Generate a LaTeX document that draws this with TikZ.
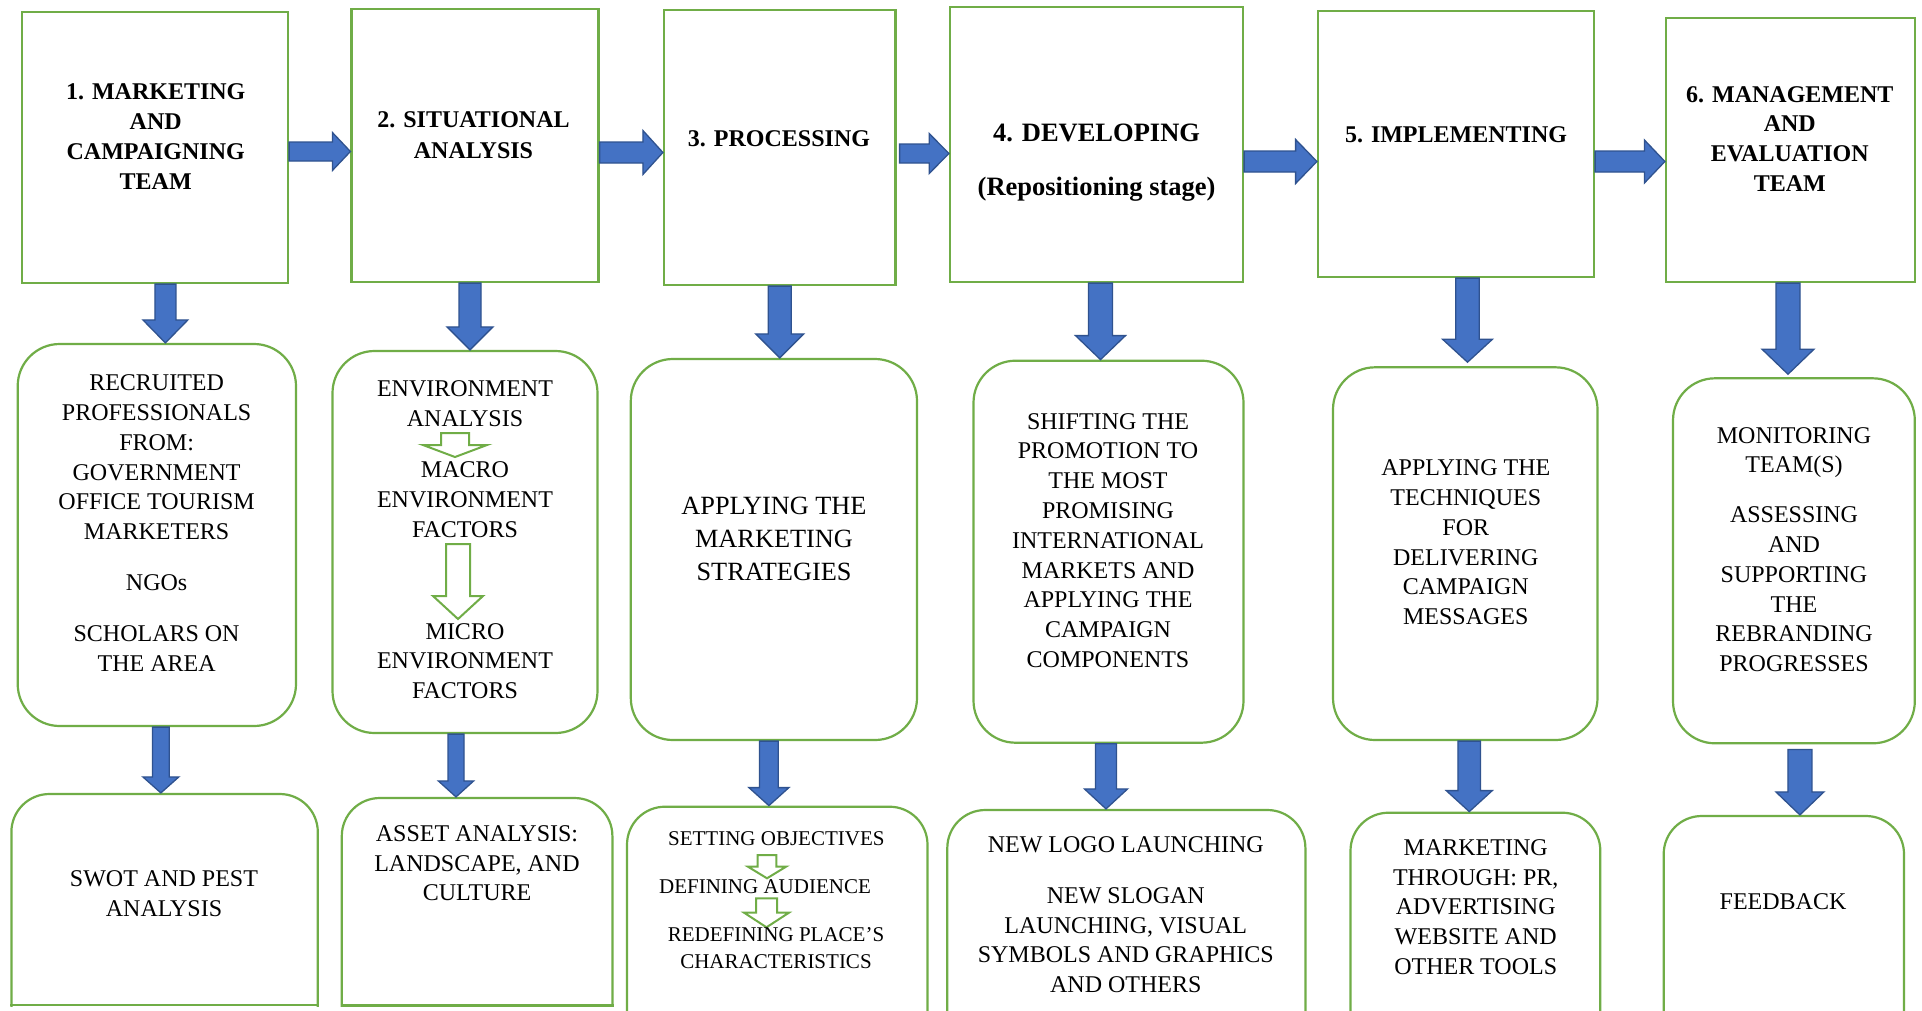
\documentclass[tikz,border=0pt]{standalone}
\usepackage{fontspec}
\setmainfont{Liberation Serif}
\usetikzlibrary{calc}
\definecolor{gbord}{HTML}{70AD47}
\definecolor{ablue}{HTML}{4472C4}
\definecolor{aedge}{HTML}{2F528F}
\tikzset{
  arsw/.store in=\arSW, arhw/.store in=\arHW, arhl/.store in=\arHL,
  arsw=10, arhw=22, arhl=20,
  blockfill/.style={fill=ablue, draw=aedge, line width=1.3pt, line join=miter},
  openfill/.style={fill=white, draw=gbord, line width=2pt, line join=miter},
  varr/.style={to path={let \p1=(\tikztostart), \p2=(\tikztotarget) in
     (\x1-\arSW*1pt,\y1) -- (\x1-\arSW*1pt,\y2+\arHL*1pt) -- (\x1-\arHW*1pt,\y2+\arHL*1pt) -- (\x1,\y2) -- (\x1+\arHW*1pt,\y2+\arHL*1pt) -- (\x1+\arSW*1pt,\y2+\arHL*1pt) -- (\x1+\arSW*1pt,\y1) -- cycle}},
  harr/.style={to path={let \p1=(\tikztostart), \p2=(\tikztotarget) in
     (\x1,\y1+\arSW*1pt) -- (\x2-\arHL*1pt,\y1+\arSW*1pt) -- (\x2-\arHL*1pt,\y1+\arHW*1pt) -- (\x2,\y1) -- (\x2-\arHL*1pt,\y1-\arHW*1pt) -- (\x2-\arHL*1pt,\y1-\arSW*1pt) -- (\x1,\y1-\arSW*1pt) -- cycle}},
  topbox/.style={draw=gbord, line width=2.2pt, fill=white, rectangle, inner sep=0pt},
  midbox/.style={draw=gbord, line width=2.2pt, fill=white, rectangle, rounded corners=42pt, inner sep=0pt},
  botbox/.style={draw=gbord, line width=2.2pt, fill=white, rectangle, rounded corners=38pt, inner sep=0pt},
  btxt/.style={font=\fontsize{24}{30}\selectfont\bfseries, align=center, inner sep=0pt},
  bbigtxt/.style={font=\fontsize{26.5}{32}\selectfont\bfseries, align=center, inner sep=0pt},
  ntxt/.style={font=\fontsize{24}{29.8}\selectfont, align=center, inner sep=0pt},
  bigtxt/.style={font=\fontsize{26.3}{33}\selectfont, align=center, inner sep=0pt},
  smalltxt/.style={font=\fontsize{21}{26.7}\selectfont, align=center, inner sep=0pt},
}
\begin{document}
\begin{tikzpicture}[x=1pt,y=-1pt]
\useasboundingbox (0,0) rectangle (1922,1010);
\fill[white] (0,0) rectangle (1922,1010);

% top boxes
\node[topbox, minimum width=266pt, minimum height=271pt] (b1) at (155,147.5) {};
\node[topbox, minimum width=247pt, minimum height=273pt] (b2) at (475,145.5) {};
\node[topbox, minimum width=231.5pt, minimum height=275pt] (b3) at (779.75,147.5) {};
\node[topbox, minimum width=293pt, minimum height=275pt] (b4) at (1096.5,144.5) {};
\node[topbox, minimum width=276pt, minimum height=266pt] (b5) at (1456,144) {};
\node[topbox, minimum width=249pt, minimum height=264pt] (b6) at (1790.5,150) {};

% middle boxes
\node[midbox, minimum width=278.3pt, minimum height=382pt] (m1) at (156.85,535) {};
\node[midbox, minimum width=265pt, minimum height=382pt] (m2) at (465,542) {};
\node[midbox, minimum width=286.2pt, minimum height=381pt] (m3) at (773.9,549.5) {};
\node[midbox, minimum width=270pt, minimum height=382pt] (m4) at (1108.5,551.7) {};
\node[midbox, minimum width=264.5pt, minimum height=372.7pt] (m5) at (1465.25,553.65) {};
\node[midbox, minimum width=241.8pt, minimum height=365pt] (m6) at (1793.9,560.8) {};

% bottom boxes
\begin{scope}
\clip (0,0) rectangle (1922,1006.1);
\node[botbox, minimum width=306.4pt, minimum height=266pt] (s1) at (164.6,927) {};
\node[botbox, minimum width=270.6pt, minimum height=262pt] (s2) at (477.1,929) {};
\end{scope}
\draw[gbord, line width=2.2pt] (s1.west |- 0,1005) -- (s1.east |- 0,1005);
\draw[gbord, line width=2.2pt] (s2.west |- 0,1005.5) -- (s2.east |- 0,1005.5);
\node[botbox, minimum width=300.5pt, minimum height=263.3pt] (s3) at (777.25,938.35) {};
\node[botbox, minimum width=358.1pt, minimum height=260pt] (s4) at (1126.35,940) {};
\node[botbox, minimum width=249.8pt, minimum height=257.3pt] (s5) at (1475.4,941.35) {};
\node[botbox, minimum width=240.3pt, minimum height=254pt] (s6) at (1783.85,943) {};

% horizontal block arrows
\draw[blockfill, harr, arsw=9.5, arhw=19, arhl=18] ([yshift=-4pt]b1.east) to (b2.west);
\draw[blockfill, harr, arsw=10.5, arhw=22, arhl=20] ([yshift=-7pt]b2.east) to (b3.west);
\draw[blockfill, harr, arsw=9.5, arhw=20, arhl=19.7] ([xshift=3pt,yshift=-6pt]b3.east) to (b4.west);
\draw[blockfill, harr, arsw=10.5, arhw=22, arhl=21.3] ([yshift=-17pt]b4.east) to (b5.west);
\draw[blockfill, harr, arsw=10.5, arhw=21.5, arhl=20.5] ([yshift=-17.5pt]b5.east) to (b6.west);

% vertical block arrows, top to middle
\draw[blockfill, varr, arsw=10.5, arhw=22.5, arhl=23] ([xshift=10.4pt]b1.south) to (m1.north);
\draw[blockfill, varr, arsw=11, arhw=23, arhl=23] ([xshift=-5pt]b2.south) to (m2.north);
\draw[blockfill, varr, arsw=11.5, arhw=24, arhl=24] (b3.south) to (m3.north);
\draw[blockfill, varr, arsw=12, arhw=25, arhl=24] ([xshift=4pt]b4.south) to (m4.north);
\draw[blockfill, varr, arsw=11.7, arhw=25, arhl=23] ([xshift=11.5pt]b5.south) to ([yshift=4pt]m5.north);
\draw[blockfill, varr, arsw=12, arhw=26, arhl=25] ([xshift=-2.5pt]b6.south) to ([yshift=3pt]m6.north);

% vertical block arrows, middle to bottom
\draw[blockfill, varr, arsw=8.4, arhw=18, arhl=16] ([xshift=4pt]m1.south) to (s1.north);
\draw[blockfill, varr, arsw=8, arhw=17.7, arhl=16] ([xshift=-9pt]m2.south) to (s2.north);
\draw[blockfill, varr, arsw=9.4, arhw=20, arhl=18] ([xshift=-5pt]m3.south) to (s3.north);
\draw[blockfill, varr, arsw=10.5, arhw=21.6, arhl=20] ([xshift=-2.5pt]m4.south) to (s4.north);
\draw[blockfill, varr, arsw=11.3, arhw=23, arhl=21] ([xshift=4pt]m5.south) to (s5.north);
\draw[blockfill, varr, arsw=12, arhw=24, arhl=23] ([xshift=6pt,yshift=-5pt]m6.south) to (s6.north);

% open green arrows inside boxes
\coordinate (g1s) at (455,433);   \coordinate (g1e) at (455,457);
\coordinate (g2s) at (458,544);   \coordinate (g2e) at (458,619);
\coordinate (g3s) at (767,855);   \coordinate (g3e) at (767,878.3);
\coordinate (g4s) at (766.5,898.3); \coordinate (g4e) at (766.5,927.3);
\draw[openfill, varr, arsw=14, arhw=32, arhl=12] (g1s) to (g1e);
\draw[openfill, varr, arsw=12, arhw=25, arhl=23] (g2s) to (g2e);
\draw[openfill, varr, arsw=9.4, arhw=19, arhl=11.6] (g3s) to (g3e);
\draw[openfill, varr, arsw=10.5, arhw=22.4, arhl=14.6] (g4s) to (g4e);

% top texts
\node[btxt] (t1) at (155.7,137) {1. MARKETING\\AND\\CAMPAIGNING\\TEAM};
\node[btxt, font=\fontsize{24}{31.5}\selectfont\bfseries] (t2) at (473.5,135) {2. SITUATIONAL\\ANALYSIS};
\node[btxt] (t3) at (779,138.3) {3. PROCESSING};
\node[bbigtxt] (t4) at (1096.6,133.3) {4. DEVELOPING};
\node[bbigtxt, anchor=base] (t4b) at (1096.6,195.5) {(Repositioning stage)};
\node[btxt] (t5) at (1456,135) {5. IMPLEMENTING};
\node[btxt, font=\fontsize{24}{29.7}\selectfont\bfseries] (t6) at (1789.8,138.8) {6. MANAGEMENT\\AND\\EVALUATION\\TEAM};

% middle texts
\node[ntxt] (x1) at (156.6,523) {RECRUITED\\PROFESSIONALS\\FROM:\\GOVERNMENT\\OFFICE TOURISM\\MARKETERS\\[21pt]NGOs\\[21pt]SCHOLARS ON\\THE AREA};
\node[ntxt] (x2a) at (465,403.5) {ENVIRONMENT\\ANALYSIS};
\node[ntxt] (x2b) at (465,499.5) {MACRO\\ENVIRONMENT\\FACTORS};
\node[ntxt] (x2c) at (465,661) {MICRO\\ENVIRONMENT\\FACTORS};
\node[bigtxt] (x3) at (774,538.5) {APPLYING THE\\MARKETING\\STRATEGIES};
\node[ntxt] (x4) at (1108,540.4) {SHIFTING THE\\PROMOTION TO\\THE MOST\\PROMISING\\INTERNATIONAL\\MARKETS AND\\APPLYING THE\\CAMPAIGN\\COMPONENTS};
\node[ntxt] (x5) at (1465.8,542.3) {APPLYING THE\\TECHNIQUES\\FOR\\DELIVERING\\CAMPAIGN\\MESSAGES};
\node[ntxt] (x6) at (1794,549.5) {MONITORING\\TEAM(S)\\[20pt]ASSESSING\\AND\\SUPPORTING\\THE\\REBRANDING\\PROGRESSES};

% bottom texts
\node[ntxt] (y1) at (164,893.3) {SWOT AND PEST\\ANALYSIS};
\node[ntxt] (y2) at (477,863.3) {ASSET ANALYSIS:\\LANDSCAPE, AND\\CULTURE};
\node[smalltxt] (y3a) at (776.3,839) {SETTING OBJECTIVES};
\node[smalltxt] (y3b) at (765,886.7) {DEFINING AUDIENCE};
\node[smalltxt] (y3c) at (776,948.3) {REDEFINING PLACE’S\\CHARACTERISTICS};
\node[ntxt] (y4) at (1125.8,915) {NEW LOGO LAUNCHING\\[20.7pt]NEW SLOGAN\\LAUNCHING, VISUAL\\SYMBOLS AND GRAPHICS\\AND OTHERS};
\node[ntxt] (y5) at (1475.7,907) {MARKETING\\THROUGH: PR,\\ADVERTISING\\WEBSITE AND\\OTHER TOOLS};
\node[ntxt] (y6) at (1783,901.7) {FEEDBACK};
\end{tikzpicture}
\end{document}
